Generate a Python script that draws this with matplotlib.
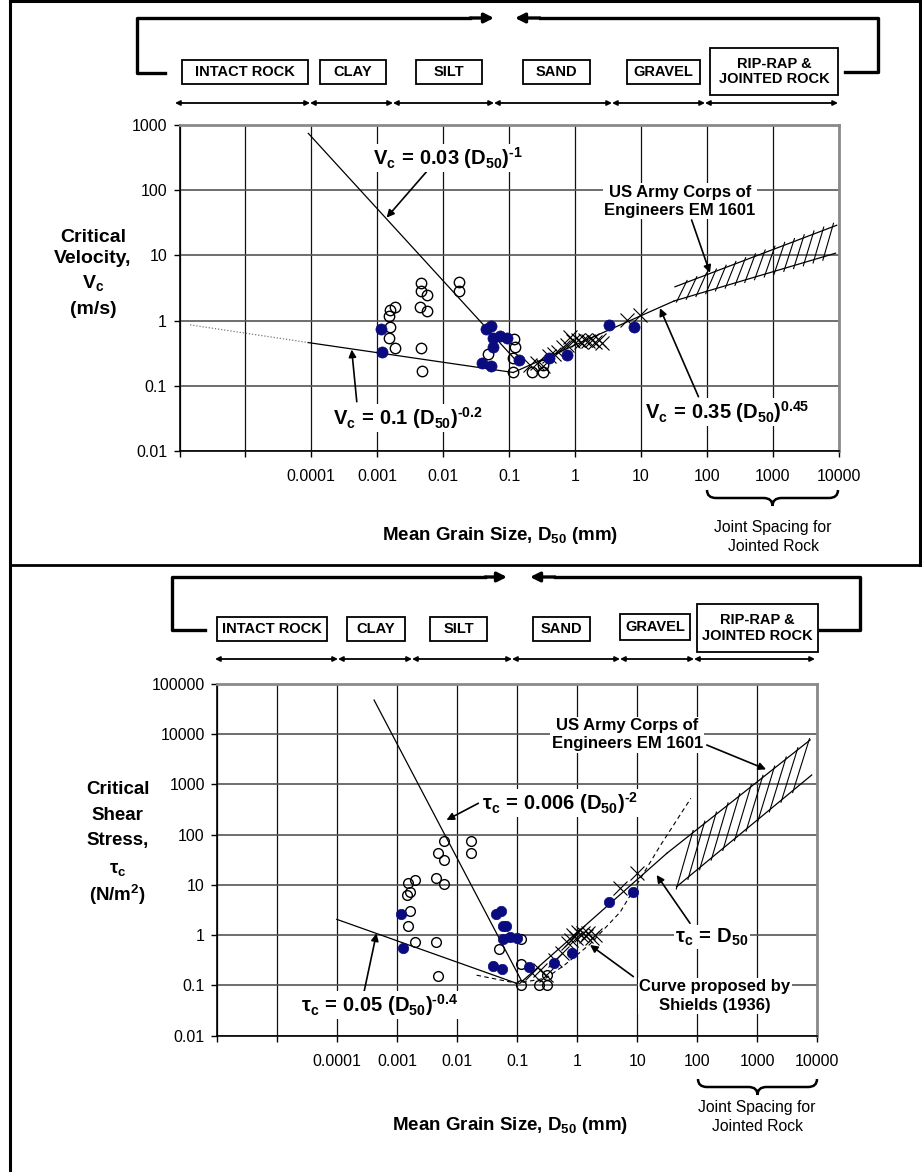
import numpy as np
import matplotlib
matplotlib.use('Agg')
import matplotlib.pyplot as plt
from matplotlib.lines import Line2D
from matplotlib.patches import Rectangle, PathPatch, FancyArrowPatch
from matplotlib.path import Path

plt.rcParams['font.family'] = ['Liberation Sans', 'DejaVu Sans']
plt.rcParams['mathtext.fontset'] = 'custom'
plt.rcParams['mathtext.rm'] = 'Liberation Sans'
plt.rcParams['mathtext.bf'] = 'Liberation Sans:bold'
plt.rcParams['mathtext.it'] = 'Liberation Sans:italic'
plt.rcParams['mathtext.sf'] = 'Liberation Sans'

# ---------------- DATA ----------------
categories = ['INTACT ROCK', 'CLAY', 'SILT', 'SAND', 'GRAVEL', 'RIP-RAP &\nJOINTED ROCK']
x_tick_labels = ['', '', '0.0001', '0.001', '0.01', '0.1', '1', '10', '100', '1000', '10000']
top_y_labels = ['0.01', '0.1', '1', '10', '100', '1000']
bot_y_labels = ['0.01', '0.1', '1', '10', '100', '1000', '10000', '100000']

# top panel: critical velocity (m/s)
top_open_D = [0.00156, 0.00186, 0.00153, 0.00158, 0.00153, 0.00188, 0.0046, 0.0047, 0.0056,
              0.0045, 0.0056, 0.0046, 0.0048, 0.0176, 0.0176, 0.0485, 0.12, 0.116, 0.116,
              0.226, 0.325, 0.325, 0.125]
top_open_V = [1.46, 1.6, 1.18, 0.79, 0.54, 0.38, 3.8, 2.8, 2.5, 1.6, 1.42, 0.38, 0.17, 3.9,
              2.8, 0.31, 0.52, 0.27, 0.16, 0.16, 0.16, 0.21, 0.40]
top_fill_D = [0.00115, 0.0012, 0.0448, 0.054, 0.057, 0.073, 0.094, 0.058, 0.0385, 0.054,
              0.143, 0.40, 0.77, 3.3, 7.9]
top_fill_V = [0.74, 0.33, 0.74, 0.83, 0.55, 0.58, 0.55, 0.40, 0.226, 0.20, 0.25, 0.27, 0.30,
              0.86, 0.81]
top_cross_D = [0.21, 0.27, 0.33, 0.40, 0.48, 0.56, 0.65, 0.75, 0.85, 0.95, 1.1, 1.25, 1.4,
               1.6, 1.8, 2.0, 2.3, 2.6, 6.1, 9.8]
top_cross_V = [0.21, 0.22, 0.20, 0.29, 0.31, 0.33, 0.40, 0.42, 0.56, 0.48, 0.50, 0.47, 0.50,
               0.48, 0.50, 0.47, 0.50, 0.46, 1.02, 1.22]
top_steep_D = [9e-5, 0.13]
top_steep_V = [745, 0.24]
top_dot_D = [1.45e-6, 9e-5]
top_dot_V = [0.86, 0.46]
top_flat_D = [9e-5, 0.116]
top_flat_V = [0.46, 0.16]
top_rise_D = [0.116, 32]
top_rise_V = [0.16, 2.0]
top_band_up_D = [33, 9400]
top_band_up_V = [3.3, 29]
top_band_lo_D = [32, 9000]
top_band_lo_V = [2.0, 10.8]

# bottom panel: critical shear stress (N/m2)
bot_open_D = [0.006, 0.0048, 0.006, 0.0169, 0.0169, 0.00152, 0.00197, 0.00147, 0.00163,
              0.00165, 0.00152, 0.00197, 0.0044, 0.006, 0.0044, 0.0048, 0.0495, 0.114,
              0.114, 0.114, 0.233, 0.316, 0.316]
bot_open_T = [76, 42.6, 32, 76, 42.6, 10.8, 12.6, 6.3, 7.3, 3.07, 1.52, 0.73, 13.6, 10.5,
              0.73, 0.154, 0.52, 0.83, 0.27, 0.102, 0.102, 0.102, 0.16]
bot_fill_D = [0.00115, 0.00123, 0.044, 0.053, 0.0585, 0.066, 0.0585, 0.0755, 0.097, 0.039,
              0.055, 0.158, 0.41, 0.81, 3.4, 8.4]
bot_fill_T = [2.7, 0.55, 2.7, 3.1, 1.5, 1.5, 0.83, 0.93, 0.87, 0.24, 0.21, 0.23, 0.275,
              0.44, 4.6, 7.2]
bot_cross_D = [0.174, 0.24, 0.30, 0.425, 0.55, 0.71, 0.80, 0.86, 0.95, 1.04, 1.15, 1.26,
               1.4, 1.52, 1.75, 1.97, 5.15, 9.8]
bot_cross_T = [0.175, 0.20, 0.16, 0.32, 0.44, 0.69, 0.80, 1.0, 0.90, 1.17, 1.0, 1.09, 0.95,
               1.09, 0.90, 1.0, 8.6, 17]
bot_steep_D = [0.00041, 0.115]
bot_steep_T = [48000, 0.13]
bot_flat_D = [9.8e-5, 0.098]
bot_flat_T = [2.07, 0.11]
bot_rise_D = [0.11, 31]
bot_rise_T = [0.11, 42.6]
bot_shields_D = [0.021, 0.1, 0.3, 0.6, 1.6, 5.2, 24, 78]
bot_shields_T = [0.16, 0.11, 0.14, 0.25, 0.65, 2.9, 60, 530]
bot_band_up_D = [31, 7600]
bot_band_up_T = [42.6, 7700]
bot_band_lo_D = [45, 8070]
bot_band_lo_T = [9.2, 1545]

# ---------------- FIGURE ----------------
W, H = 922, 1172
fig = plt.figure(figsize=(W / 100, H / 100), dpi=100)


def fx(px):
    return px / W


def fy(py):
    return 1 - py / H


def fline(xs, ys, lw=2.0, **kw):
    fig.add_artist(Line2D([fx(x) for x in xs], [fy(y) for y in ys], lw=lw,
                          color='black', transform=fig.transFigure, **kw))


def farrow(x0, y0, x1, y1, style='-|>', lw=2.0, ms=14):
    fig.add_artist(FancyArrowPatch(
        (fx(x0), fy(y0)), (fx(x1), fy(y1)), arrowstyle=style, lw=lw,
        mutation_scale=ms, color='black', transform=fig.transFigure,
        shrinkA=0, shrinkB=0))


def loginterp(D, Ds, Vs):
    return 10 ** np.interp(np.log10(D), np.log10(Ds), np.log10(Vs))


def setup_axes(ax, ylim, ylabels):
    ax.set_xscale('log')
    ax.set_yscale('log')
    ax.set_xlim(1e-6, 1e4)
    ax.set_ylim(*ylim)
    ax.set_xticks(10.0 ** np.arange(-6, 5))
    ax.set_xticklabels(x_tick_labels)
    ax.set_yticks(10.0 ** np.arange(np.log10(ylim[0]), np.log10(ylim[1]) + 1))
    ax.set_yticklabels(ylabels)
    ax.minorticks_off()
    ax.tick_params(direction='out', length=4, width=1, color='black', labelsize=11.5)
    ax.tick_params(axis='x', pad=9)
    ax.tick_params(axis='y', pad=5)
    ax.set_axisbelow(True)
    ax.grid(True, axis='x', color='#111111', lw=0.9)
    ax.grid(True, axis='y', color='#555555', lw=1.2)
    for s in ['top', 'right']:
        ax.spines[s].set_color('#8a8a8a')
        ax.spines[s].set_linewidth(2.0)
    for s in ['left', 'bottom']:
        ax.spines[s].set_color('black')
        ax.spines[s].set_linewidth(1.2)


def band(ax, upD, upV, loD, loV, starts, k, ext):
    ax.plot(upD, upV, color='black', lw=0.9, zorder=3)
    ax.plot(loD, loV, color='black', lw=0.9, zorder=3)
    for d in starts:
        d2 = d * k
        l0 = np.log10(d)
        l1 = np.log10(d2)
        v0 = np.log10(loginterp(d, loD, loV))
        v1 = np.log10(loginterp(d2, upD, upV))
        xs = [l0 - ext * (l1 - l0), l1 + ext * (l1 - l0)]
        ys = [v0 - ext * (v1 - v0), v1 + ext * (v1 - v0)]
        ax.plot(10 ** np.array(xs), 10 ** np.array(ys), color='black', lw=0.8, zorder=3)


def arrow(ax, tail, head):
    ax.annotate('', xy=head, xytext=tail,
                arrowprops=dict(arrowstyle='-|>', color='black', lw=1.2,
                                mutation_scale=11, shrinkA=0, shrinkB=0), zorder=7)


def eq(ax, x, y, s, size=14.5):
    ax.text(x, y, s, ha='center', va='center', fontsize=size, zorder=8,
            bbox=dict(fc='white', ec='none', pad=1.0))


OPEN = dict(ls='none', marker='o', mfc='none', mec='black', mew=1.0, zorder=5)
FILL = dict(ls='none', marker='o', mfc='#0b0b80', mec='#0b0b80', mew=0.5, zorder=6)
CROSS = dict(ls='none', marker='x', color='black', mew=0.8, zorder=4)

HY = '\u2010'  # hyphen used in exponents
EQ = r'\,=\,'

# ===== TOP PANEL =====
ax1 = fig.add_axes([fx(179.5), fy(451), (838.5 - 179.5) / W, (451 - 125) / H])
setup_axes(ax1, (0.01, 1000), top_y_labels)

ax1.plot(top_steep_D, top_steep_V, color='black', lw=0.9, zorder=3)
ax1.plot(top_dot_D, top_dot_V, color='#777777', lw=0.9, ls=(0, (1, 1.5)), zorder=3)
ax1.plot(top_flat_D, top_flat_V, color='black', lw=0.9, zorder=3)
ax1.plot(top_rise_D, top_rise_V, color='black', lw=0.9, zorder=3)
band(ax1, top_band_up_D, top_band_up_V, top_band_lo_D, top_band_lo_V,
     np.geomspace(36, 6000, 16), 1.35, 0.12)
ax1.plot(top_cross_D, top_cross_V, ms=10, **CROSS)
ax1.plot(top_open_D, top_open_V, ms=7.5, **OPEN)
ax1.plot(top_fill_D, top_fill_V, ms=8, **FILL)

eq(ax1, 0.0119, 312, r'$\mathbf{V_c' + EQ + r'0.03\ (D_{50})^{' + HY + '1}}$')
arrow(ax1, (0.0059, 204), (0.00139, 38))
eq(ax1, 0.0029, 0.032, r'$\mathbf{V_c' + EQ + r'0.1\ (D_{50})^{' + HY + '0.2}}$')
arrow(ax1, (4.9e-4, 0.057), (4.1e-4, 0.36))
ax1.text(39, 68, 'US Army Corps of\nEngineers EM 1601', ha='center', va='center',
         fontsize=12, fontweight='bold', linespacing=1.25, zorder=8,
         bbox=dict(fc='white', ec='none', pad=1.0))
arrow(ax1, (59, 35), (112, 5.4))
eq(ax1, 204, 0.0396, r'$\mathbf{V_c' + EQ + r'0.35\ (D_{50})^{0.45}}$')
arrow(ax1, (75, 0.068), (19.5, 1.55))

# ===== BOTTOM PANEL =====
ax2 = fig.add_axes([fx(217.3), fy(1035.7), 600 / W, (1035.7 - 684) / H])
setup_axes(ax2, (0.01, 100000), bot_y_labels)

ax2.plot(bot_steep_D, bot_steep_T, color='black', lw=0.9, zorder=3)
ax2.plot(bot_flat_D, bot_flat_T, color='black', lw=0.9, zorder=3)
ax2.plot(bot_rise_D, bot_rise_T, color='black', lw=0.9, zorder=3)
ax2.plot(bot_shields_D, bot_shields_T, color='black', lw=0.8, ls=(0, (4, 3)), zorder=3)
band(ax2, bot_band_up_D, bot_band_up_T, bot_band_lo_D, bot_band_lo_T,
     np.geomspace(46, 4000, 11), 1.8, 0.05)
ax2.plot(bot_cross_D, bot_cross_T, ms=10, **CROSS)
ax2.plot(bot_open_D, bot_open_T, ms=7, **OPEN)
ax2.plot(bot_fill_D, bot_fill_T, ms=7.5, **FILL)

eq(ax2, 0.515, 428, r'$\mathbf{\tau_c' + EQ + r'0.006\ (D_{50})^{' + HY + '2}}$')
arrow(ax2, (0.0224, 422), (0.0066, 196))
eq(ax2, 5.15e-4, 0.041, r'$\mathbf{\tau_c' + EQ + r'0.05\ (D_{50})^{' + HY + '0.4}}$')
arrow(ax2, (2.4e-4, 0.032), (4.5e-4, 1.09))
ax2.text(6.8, 9660, 'US Army Corps of\nEngineers EM 1601', ha='center', va='center',
         fontsize=12, fontweight='bold', linespacing=1.25, zorder=8,
         bbox=dict(fc='white', ec='none', pad=1.0))
arrow(ax2, (144, 6100), (1400, 2000))
eq(ax2, 177, 0.92, r'$\mathbf{\tau_c' + EQ + r'D_{50}}$')
arrow(ax2, (75.6, 1.73), (21, 15.8))
ax2.text(197, 0.062, 'Curve proposed by\nShields (1936)', ha='center', va='center',
         fontsize=12, fontweight='bold', linespacing=1.3, zorder=8,
         bbox=dict(fc='white', ec='none', pad=1.0))
arrow(ax2, (8.6, 0.15), (1.63, 0.64))

# ===== AXIS TITLES =====
for txt, py in [('Critical', 237), ('Velocity,', 258), (r'$\mathbf{V_c}$', 283), ('(m/s)', 309)]:
    fig.text(fx(93), fy(py), txt, ha='center', va='center', fontsize=14, fontweight='bold')
for txt, py in [('Critical', 789), ('Shear', 815), ('Stress,', 841), (r'$\mathbf{\tau_c}$', 869),
                (r'$\mathbf{(N/m^2)}$', 895)]:
    fig.text(fx(117.5), fy(py), txt, ha='center', va='center', fontsize=13.5, fontweight='bold')

for pxc, pyc in [(500, 535), (510, 1125)]:
    fig.text(fx(pxc), fy(pyc), r'Mean Grain Size, D$_{\mathbf{50}}$ (mm)', ha='center',
             va='center', fontsize=13.5, fontweight='bold')
for pxc, pyc in [(773, 537), (757, 1117)]:
    fig.text(fx(pxc), fy(pyc), 'Joint Spacing for\nJointed Rock', ha='center', va='center',
             fontsize=11.3, linespacing=1.4)


def brace(x0, x1, y0, h):
    xm = (x0 + x1) / 2
    r = 9
    pts = [(x0, y0), (x0, y0 + h / 2), (x0 + r, y0 + h / 2), (xm - r, y0 + h / 2),
           (xm, y0 + h / 2), (xm, y0 + h),
           (x1, y0), (x1, y0 + h / 2), (x1 - r, y0 + h / 2), (xm + r, y0 + h / 2),
           (xm, y0 + h / 2), (xm, y0 + h)]
    codes = [Path.MOVETO, Path.CURVE3, Path.CURVE3, Path.LINETO, Path.CURVE3, Path.CURVE3] * 2
    verts = [(fx(a), fy(b)) for a, b in pts]
    fig.add_artist(PathPatch(Path(verts, codes), fc='none', ec='black', lw=1.8,
                             transform=fig.transFigure))


brace(707, 838, 490, 16)
brace(698, 817, 1079, 16)

# ===== CATEGORY BOXES & BRACKETS =====
top_boxes = [(182, 60, 308, 84), (320, 60, 386, 84), (416, 60, 482, 84), (523, 60, 590, 84),
             (627, 60, 700, 84), (710, 48, 838, 95)]
bot_boxes = [(217, 617, 327, 641), (347, 617, 405, 641), (430, 617, 487, 641),
             (533, 617, 590, 641), (620, 614, 690, 640), (697, 604, 818, 652)]
top_bounds = [175, 310, 393, 494, 612, 705, 838]
bot_bounds = [215, 338, 412, 512, 620, 694, 815]

for boxes, bounds, ay in [(top_boxes, top_bounds, 103), (bot_boxes, bot_bounds, 659)]:
    for name, (x0, y0, x1, y1) in zip(categories, boxes):
        fig.add_artist(Rectangle((fx(x0), fy(y1)), (x1 - x0) / W, (y1 - y0) / H,
                                 fc='white', ec='black', lw=1.3, transform=fig.transFigure))
        fig.text(fx((x0 + x1) / 2), fy((y0 + y1) / 2), name, ha='center', va='center',
                 fontsize=10.5, fontweight='bold', linespacing=1.15)
    for a, b in zip(bounds[:-1], bounds[1:]):
        farrow(a, ay, b, ay, style='<|-|>', lw=1.3, ms=7)

# brackets
fline([165, 137, 137, 470], [73, 73, 18, 18], lw=2.4)
farrow(470, 18, 494, 18, lw=2.4, ms=14)
fline([845, 878, 878, 540], [72, 72, 18, 18], lw=2.4)
farrow(540, 18, 515, 18, lw=2.4, ms=14)
fline([205, 172, 172, 485], [630, 630, 577, 577], lw=2.4)
farrow(485, 577, 507, 577, lw=2.4, ms=14)
fline([820, 860, 860, 555], [630, 630, 577, 577], lw=2.4)
farrow(555, 577, 530, 577, lw=2.4, ms=14)

# outer frame
fline([10, 10], [0, 1172], lw=2.2)
fline([10, 922], [1, 1], lw=2.2)
fline([920, 920], [0, 565], lw=2.2)
fline([10, 922], [565, 565], lw=2.0)

fig.savefig('out.png', dpi=100)
